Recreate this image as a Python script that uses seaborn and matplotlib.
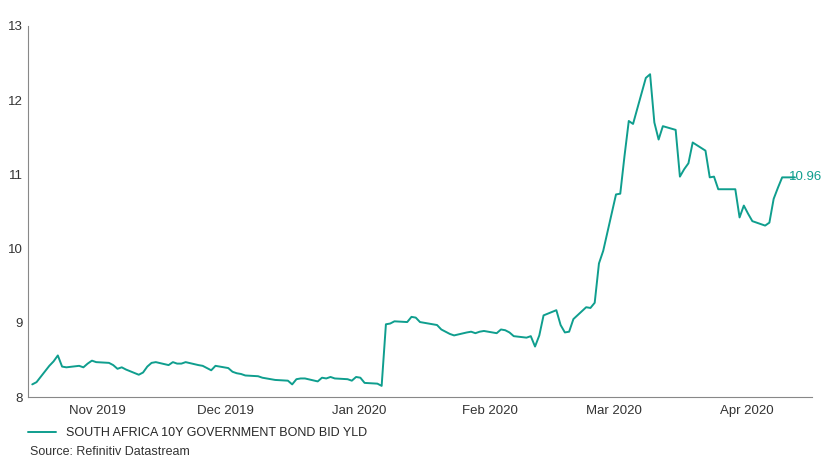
import numpy as np
import pandas as pd
import matplotlib
matplotlib.use("Agg")
import matplotlib.pyplot as plt
import matplotlib.dates as mdates
import seaborn as sns

# Yield values, one per business day
yld = [8.17, 8.2, 8.42, 8.48, 8.56, 8.41, 8.40, 8.42, 8.40, 8.45, 8.49, 8.47, 8.46, 8.43,
       8.38, 8.40, 8.37, 8.30, 8.33, 8.41, 8.46, 8.47, 8.43, 8.47, 8.45, 8.45, 8.47, 8.43,
       8.42, 8.39, 8.36, 8.42, 8.39, 8.34, 8.32, 8.31, 8.29, 8.28, 8.26, 8.25, 8.24, 8.23,
       8.22, 8.17, 8.24, 8.25, 8.25, 8.21, 8.26, 8.25, 8.27, 8.25, 8.24, 8.22, 8.27, 8.26,
       8.19, 8.18, 8.15, 8.98, 8.99, 9.02, 9.01, 9.08, 9.07, 9.01, 9.00, 8.97, 8.91, 8.88,
       8.85, 8.83, 8.87, 8.88, 8.86, 8.88, 8.89, 8.86, 8.91, 8.90, 8.87, 8.82, 8.80, 8.82,
       8.68, 8.83, 9.10, 9.17, 8.97, 8.87, 8.88, 9.05, 9.21, 9.20, 9.27, 9.80, 9.97, 10.73,
       10.74, 11.25, 11.72, 11.68, 12.30, 12.35, 11.70, 11.47, 11.65, 11.60, 10.97, 11.07,
       11.15, 11.43, 11.32, 10.96, 10.97, 10.80, 10.80, 10.80, 10.42, 10.58, 10.47, 10.37,
       10.31, 10.35, 10.67, 10.82, 10.96, 10.96]
dates = pd.bdate_range("2019-10-10", periods=len(yld))
df = pd.DataFrame({"date": dates, "yld": yld})

color = "#0f9e8e"
sns.set_style("white")
plt.rcParams["font.family"] = ["Liberation Sans", "DejaVu Sans"]

fig = plt.figure(figsize=(8.3, 4.63), dpi=100)
ax = fig.add_axes([28 / 830, 1 - 397 / 463, (812 - 28) / 830, (397 - 26) / 463])
sns.lineplot(data=df, x="date", y="yld", ax=ax, color=color, linewidth=1.4,
             label="SOUTH AFRICA 10Y GOVERNMENT BOND BID YLD", legend=False)

ax.set_ylim(8, 13)
ax.set_xlim(dates[0] - pd.Timedelta(days=1), dates[-1] + pd.Timedelta(days=4))
ax.xaxis.set_major_locator(mdates.MonthLocator(bymonth=[11, 12, 1, 2, 3, 4], bymonthday=1))
ax.xaxis.set_major_formatter(mdates.DateFormatter("%b %Y"))
ax.set_xlabel("")
ax.set_ylabel("")
ax.tick_params(axis="both", labelsize=9.5, colors="#333333", length=0)
ax.tick_params(axis="x", pad=6)
for lbl in ax.get_xticklabels():
    lbl.set_horizontalalignment("right")
for s in ["top", "right"]:
    ax.spines[s].set_visible(False)
ax.spines["left"].set_color("#888888")
ax.spines["bottom"].set_color("#888888")
ax.spines["left"].set_linewidth(0.8)
ax.spines["bottom"].set_linewidth(0.8)

ax.annotate(f"{yld[-1]:.2f}", (df["date"].iloc[-1], yld[-1]), xytext=(-4, 0),
            textcoords="offset points", color=color, fontsize=9.5, va="center")

fig.legend(handles=ax.get_lines()[:1], loc="upper left", bbox_to_anchor=(28 / 830, 1 - 427 / 463),
           frameon=False, fontsize=9, handlelength=2.2, borderpad=0, borderaxespad=0)
fig.text(30 / 830, 1 - 452 / 463, "Source: Refinitiv Datastream", fontsize=9,
         color="#333333", va="center")

fig.savefig("out.png", dpi=100)
